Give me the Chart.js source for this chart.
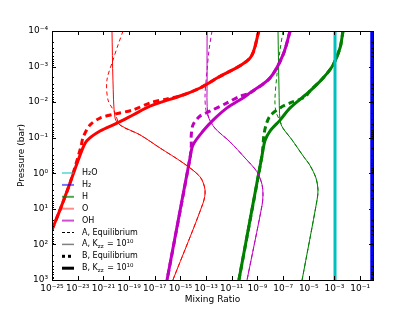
<!DOCTYPE html>
<html>
<head>
<meta charset="utf-8">
<script src="https://cdn.jsdelivr.net/npm/chart.js@4.4.1/dist/chart.umd.min.js"></script>
<style>
html,body{margin:0;padding:0;background:#fff;}
</style>
</head>
<body>
<canvas id="myChart" width="415" height="312"></canvas>
<script>
// [mixing ratio, pressure (bar)]
var h2o = [[1.1e-3, 1e-4], [1.1e-3, 1e3]];
var h2 = [[0.8, 1e-4], [0.8, 1e3]];

var oBKzz = [[1.3e-9,1e-4],[2.6e-10,5.8e-4],[7.1e-13,2.1e-3],[3.4e-14,4.0e-3],[1.6e-15,6.3e-3],[4.3e-18,1.3e-2],
    [2.0e-19,2.3e-2],[1.15e-20,3.9e-2],[5.5e-22,6.5e-2],[5.4e-23,0.12],[2.2e-23,0.22],[2.5e-24,1.9],[4.2e-25,10.7],
    [1e-25,39],[3.4e-27,1000]];
var oBEq = [[1.3e-9,1e-4],[2.6e-10,5.8e-4],[7.1e-13,2.1e-3],[3.4e-14,4.0e-3],[1.6e-15,6.3e-3],[9.1e-17,8.1e-3],
    [4.3e-18,1.05e-2],[2.0e-19,1.66e-2],[1.15e-20,2.1e-2],[5.5e-22,2.8e-2],[9.1e-23,4.4e-2],[2.6e-23,0.10],
    [1.8e-23,0.18],[2.5e-24,1.9],[4.2e-25,10.7],[1e-25,39],[3.4e-27,1000]];
var oAKzz = [[4.7e-21,1e-4],[5.6e-21,2.4e-3],[8.1e-21,2.8e-2],[2.0e-20,4.4e-2],[7.1e-19,8.3e-2],[2.6e-17,0.195],
    [1.6e-15,0.51],[3.4e-14,1.26],[8.3e-14,2.95],[5.8e-14,6.9],[2.6e-16,1000]];
var oAEq = [[3.4e-20,1e-4],[1.4e-20,2.45e-4],[5.6e-21,6.6e-4],[1.9e-21,2.4e-3],[2.3e-21,8.7e-3],[8.1e-21,2.0e-2],
    [2.0e-20,4.4e-2],[7.1e-19,8.3e-2],[2.6e-17,0.195],[1.6e-15,0.51],[3.4e-14,1.26],[8.3e-14,2.95],[5.8e-14,6.9],[2.6e-16,1000]];

var ohBKzz = [[3.5e-7,1e-4],[9.8e-8,4.7e-4],[9.5e-9,2.1e-3],[2.6e-10,5.5e-3],[7.6e-11,7.6e-3],[4.3e-12,1.45e-2],
    [3.5e-13,3.2e-2],[5.8e-14,6.5e-2],[9.5e-15,0.16],[5.6e-15,0.37],[9.1e-17,1000]];
var ohBEq = [[3.5e-7,1e-4],[9.8e-8,4.7e-4],[9.5e-9,2.1e-3],[2.6e-10,5.5e-3],[4.4e-11,6.8e-3],[4.3e-12,1.05e-2],
    [2.0e-13,1.8e-2],[3.4e-14,2.45e-2],[9.5e-15,4.4e-2],[6.8e-15,0.10],[7.1e-15,0.16],[5.6e-15,0.37],[9.1e-17,1000]];
var ohAKzz = [[1.2e-13,1e-4],[1.2e-13,2.4e-3],[1.4e-13,2.3e-2],[4.9e-13,5.4e-2],[7.2e-12,0.13],[1.07e-10,0.37],
    [9.3e-10,0.91],[2.3e-9,2.1],[2.7e-9,4.1],[2.3e-9,7.8],[1.55e-10,1000]];
var ohAEq = [[2.9e-13,1e-4],[1.7e-13,3.4e-4],[1.2e-13,1.26e-3],[8.3e-14,6.3e-3],[9.8e-14,1.66e-2],[2.0e-13,3.2e-2],
    [4.9e-13,5.4e-2],[7.2e-12,0.13],[1.07e-10,0.37],[9.3e-10,0.91],[2.3e-9,2.1],[2.7e-9,4.1],[2.3e-9,7.8],[1.55e-10,1000]];

var hBKzz = [[4.6e-3,1e-4],[2.7e-3,3.0e-4],[7.6e-4,9.1e-4],[1.3e-4,2.1e-3],[1.2e-5,4.9e-3],[3.5e-7,1.45e-2],
    [5.8e-8,3.2e-2],[9.5e-9,6.5e-2],[3.9e-9,0.12],[2.3e-9,0.31],[3.6e-11,1000]];
var hBEq = [[4.6e-3,1e-4],[2.7e-3,3.0e-4],[7.6e-4,9.1e-4],[1.3e-4,2.1e-3],[1.2e-5,4.9e-3],[5.0e-6,7.2e-3],
    [3.5e-7,1.05e-2],[5.8e-8,1.45e-2],[9.5e-9,2.45e-2],[4.7e-9,4.4e-2],[3.2e-9,8.3e-2],[2.75e-9,0.16],[2.3e-9,0.31],[3.6e-11,1000]];
var hAKzz = [[4.0e-8,1e-4],[4.8e-8,4.6e-3],[5.8e-8,3.4e-2],[9.8e-8,5.4e-2],[4.9e-7,0.115],[3.5e-6,0.32],
    [1.2e-5,0.59],[3.6e-5,1.35],[5.2e-5,2.95],[4.4e-5,5.6],[3.0e-6,1000]];
var hAEq = [[9.8e-8,1e-4],[5.8e-8,3.4e-4],[3.3e-8,1.7e-3],[2.3e-8,8.7e-3],[2.8e-8,1.9e-2],[5.8e-8,3.4e-2],
    [9.8e-8,5.4e-2],[4.9e-7,0.115],[3.5e-6,0.32],[1.2e-5,0.59],[3.6e-5,1.35],[5.2e-5,2.95],[4.4e-5,5.6],[3.0e-6,1000]];

var xTickExps = [-25,-23,-21,-19,-17,-15,-13,-11,-9,-7,-5,-3,-1];
var yTickExps = [-4,-3,-2,-1,0,1,2,3];

var FONT = 'DejaVu Sans';
var RED = '#ff0000', MAG = '#bf00bf', GRN = '#008000', CYN = '#00bfbf', BLU = '#0000ff';

var SUP = {'-':'\u207b','0':'\u2070','1':'\u00b9','2':'\u00b2','3':'\u00b3','4':'\u2074','5':'\u2075','6':'\u2076','7':'\u2077','8':'\u2078','9':'\u2079'};
function powLabel(v){
    var e = String(Math.round(Math.log10(v)));
    return '10' + e.split('').map(function(c){ return SUP[c]; }).join('');
}

function line(pts, color, width, dash){
    return {
        data: pts.map(function(p){ return {x: p[0], y: p[1]}; }),
        borderColor: color,
        borderWidth: width,
        borderDash: dash || [],
        pointRadius: 0,
        showLine: true,
        fill: false,
        tension: 0.3
    };
}

var legendRows = [
    {text: 'H\u2082O', color: 'rgba(0,191,191,0.5)', w: 2},
    {text: 'H\u2082', color: 'rgba(0,0,255,0.55)', w: 2},
    {text: 'H', color: 'rgba(0,128,0,0.7)', w: 2},
    {text: 'O', color: 'rgba(255,0,0,0.45)', w: 2},
    {text: 'OH', color: 'rgba(191,0,191,0.7)', w: 2},
    {text: 'A, Equilibrium', color: '#000', w: 1, dash: [3,2]},
    {text: 'A, K', kzz: true, color: '#808080', w: 1.5},
    {text: 'B, Equilibrium', color: '#000', w: 3, dash: [3,3]},
    {text: 'B, K', kzz: true, color: '#000', w: 3}
];

var decorations = {
    id: 'decorations',
    afterDatasetsDraw: function(chart){
        var ctx = chart.ctx, a = chart.chartArea, xs = chart.scales.x, ys = chart.scales.y;
        ctx.save();
        ctx.strokeStyle = '#000';
        ctx.lineWidth = 1;
        ctx.setLineDash([]);
        ctx.strokeRect(Math.round(a.left) + 0.5, Math.round(a.top) + 0.5, Math.round(a.right - a.left), Math.round(a.bottom - a.top));
        ctx.beginPath();
        xTickExps.forEach(function(e){
            var px = Math.round(xs.getPixelForValue(Math.pow(10, e))) + 0.5;
            ctx.moveTo(px, a.bottom); ctx.lineTo(px, a.bottom - 4);
            ctx.moveTo(px, a.top); ctx.lineTo(px, a.top + 4);
        });
        yTickExps.forEach(function(e){
            var py = Math.round(ys.getPixelForValue(Math.pow(10, e))) + 0.5;
            ctx.moveTo(a.left, py); ctx.lineTo(a.left + 4, py);
            ctx.moveTo(a.right, py); ctx.lineTo(a.right - 4, py);
            if (e < 3) {
                for (var k = 2; k < 10; k++) {
                    var pm = Math.round(ys.getPixelForValue(k * Math.pow(10, e))) + 0.5;
                    ctx.moveTo(a.left, pm); ctx.lineTo(a.left + 2, pm);
                    ctx.moveTo(a.right, pm); ctx.lineTo(a.right - 2, pm);
                }
            }
        });
        ctx.stroke();

        // axis titles
        ctx.fillStyle = '#000';
        ctx.font = '9px ' + FONT;
        ctx.textAlign = 'center';
        ctx.textBaseline = 'middle';
        ctx.fillText('Mixing Ratio', (a.left + a.right) / 2, 300);
        ctx.save();
        ctx.translate(22, (a.top + a.bottom) / 2);
        ctx.rotate(-Math.PI / 2);
        ctx.fillText('Pressure (bar)', 0, 0);
        ctx.restore();

        // legend
        ctx.textAlign = 'left';
        legendRows.forEach(function(r, i){
            var y = 173 + i * 11.9;
            ctx.beginPath();
            ctx.strokeStyle = r.color;
            ctx.lineWidth = r.w;
            ctx.setLineDash(r.dash || []);
            ctx.moveTo(62, y); ctx.lineTo(74, y);
            ctx.stroke();
            ctx.setLineDash([]);
            ctx.fillStyle = '#000';
            ctx.font = '8px ' + FONT;
            var x = 82;
            ctx.fillText(r.text, x, y);
            if (r.kzz) {
                x += ctx.measureText(r.text).width;
                ctx.font = '5.5px ' + FONT;
                ctx.fillText('zz', x, y + 2.5);
                x += ctx.measureText('zz').width + 1;
                ctx.font = '8px ' + FONT;
                ctx.fillText(' = 10', x, y);
                x += ctx.measureText(' = 10').width;
                ctx.font = '5.5px ' + FONT;
                ctx.fillText('10', x, y - 3);
            }
        });
        ctx.restore();
    }
};

var myChart = new Chart(document.getElementById('myChart'), {
    type: 'scatter',
    data: {
        datasets: [
            line(h2o, CYN, 3), line(h2, BLU, 3),
            line(oAEq, RED, 1, [4,3]), line(oAKzz, RED, 1), line(oBEq, RED, 3, [6,4]), line(oBKzz, RED, 3),
            line(ohAEq, MAG, 1, [4,3]), line(ohAKzz, MAG, 1), line(ohBEq, MAG, 3, [6,4]), line(ohBKzz, MAG, 3),
            line(hAEq, GRN, 1, [4,3]), line(hAKzz, GRN, 1), line(hBEq, GRN, 3, [6,4]), line(hBKzz, GRN, 3)
        ]
    },
    options: {
        responsive: false,
        animation: false,
        devicePixelRatio: 1,
        layout: {padding: {top: 31, right: 42, left: 0, bottom: 0}},
        plugins: {legend: {display: false}, tooltip: {enabled: false}},
        scales: {
            x: {
                type: 'logarithmic', min: 1e-25, max: 1,
                grid: {display: false, drawTicks: false},
                border: {display: false},
                afterBuildTicks: function(s){ s.ticks = xTickExps.map(function(e){ return {value: Math.pow(10, e)}; }); },
                afterFit: function(s){ s.height = 32; },
                ticks: {autoSkip: false, maxRotation: 0, padding: 3, color: '#000', font: {family: FONT, size: 9},
                    callback: function(v){ return powLabel(v); }}
            },
            y: {
                type: 'logarithmic', reverse: true, min: 1e-4, max: 1e3,
                grid: {display: false, drawTicks: false},
                border: {display: false},
                afterBuildTicks: function(s){ s.ticks = yTickExps.map(function(e){ return {value: Math.pow(10, e)}; }); },
                afterFit: function(s){ s.width = 52; },
                ticks: {autoSkip: false, padding: 4, color: '#000', font: {family: FONT, size: 9},
                    callback: function(v){ return powLabel(v); }}
            }
        }
    },
    plugins: [decorations]
});
</script>
</body>
</html>
